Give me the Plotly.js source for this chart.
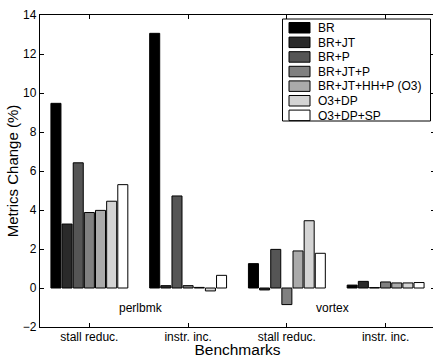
<!DOCTYPE html>
<html>
<head>
<meta charset="utf-8">
<script src="https://cdn.plot.ly/plotly-3.0.1.min.js"></script>
<style>
html,body{margin:0;padding:0;overflow:hidden;background:#fff;}
#chart{width:440px;height:358px;}
</style>
</head>
<body>
<div id="chart"></div>
<script>
// ---- data ----
const categoryPositions = [1, 2, 3, 4];
const categoryLabels = ['stall reduc.', 'instr. inc.', 'stall reduc.', 'instr. inc.'];
const benchmarkNames = ['perlbmk', 'vortex'];
const benchmarkLabelX = [1.52, 3.46];
const benchmarkLabelY = -1.05;

const seriesNames = ['BR', 'BR+JT', 'BR+P', 'BR+JT+P', 'BR+JT+HH+P (O3)', 'O3+DP', 'O3+DP+SP'];
const seriesColors = ['#000000', '#2a2a2a', '#555555', '#808080', '#aaaaaa', '#d4d4d4', '#ffffff'];

const valBR       = [9.47, 13.06, 1.25, 0.15];
const valBRJT     = [3.28, 0.12, -0.10, 0.34];
const valBRP      = [6.42, 4.72, 1.98, 0.02];
const valBRJTP    = [3.87, 0.12, -0.85, 0.31];
const valBRJTHHP  = [3.98, 0.03, 1.90, 0.26];
const valO3DP     = [4.45, -0.15, 3.45, 0.26];
const valO3DPSP   = [5.30, 0.65, 1.78, 0.28];
const seriesValues = [valBR, valBRJT, valBRP, valBRJTP, valBRJTHHP, valO3DP, valO3DPSP];

// ---- traces ----
const traces = seriesNames.map((name, i) => ({
  type: 'bar',
  name: name,
  x: categoryPositions,
  y: seriesValues[i],
  marker: {color: seriesColors[i], line: {color: '#000', width: 1}},
  showlegend: false,
  hoverinfo: 'skip'
}));

const FONT = 'Liberation Sans, Arial, Helvetica, sans-serif';

// ---- custom legend (pixel geometry converted to paper coords) ----
const L = 40, W = 395, T = 15, H = 312;
const px = v => (v - L) / W;
const py = v => (T + H - v) / H;
const shapes = [{
  type: 'rect', xref: 'paper', yref: 'paper',
  x0: px(282.5), x1: px(430.5), y0: py(121), y1: py(19),
  line: {color: '#000', width: 1}, fillcolor: '#fff'
}];
const annotations = [];
seriesNames.forEach((name, i) => {
  const top = 22.5 + 14.6 * i;
  shapes.push({
    type: 'rect', xref: 'paper', yref: 'paper',
    x0: px(289), x1: px(310), y0: py(top + 10.5), y1: py(top),
    line: {color: '#000', width: 1}, fillcolor: seriesColors[i]
  });
  annotations.push({
    xref: 'paper', yref: 'paper', x: px(316), y: py(top + 5.5),
    xanchor: 'left', yanchor: 'middle', text: name, showarrow: false,
    font: {family: FONT, size: 12, color: '#000'}
  });
});
benchmarkNames.forEach((b, i) => {
  annotations.push({
    xref: 'x', yref: 'y', x: benchmarkLabelX[i], y: benchmarkLabelY,
    text: b, showarrow: false, xanchor: 'center', yanchor: 'middle',
    font: {family: FONT, size: 12, color: '#000'}
  });
});

const layout = {
  width: 440, height: 358,
  margin: {l: L, r: 440 - L - W, t: T, b: 358 - T - H},
  paper_bgcolor: '#fff', plot_bgcolor: '#fff',
  font: {family: FONT, size: 12, color: '#000'},
  barmode: 'group', bargap: 0.21, bargroupgap: 0.1,
  xaxis: {
    range: [0.5, 4.5], tickvals: categoryPositions, ticktext: categoryLabels,
    ticks: 'inside', ticklen: 4, tickcolor: '#000', tickwidth: 1,
    ticklabelstandoff: -2,
    showline: true, linecolor: '#000', linewidth: 1.2, mirror: 'ticks',
    showgrid: false, zeroline: false,
    tickfont: {family: FONT, size: 12, color: '#000'},
    title: {text: 'Benchmarks', font: {family: FONT, size: 15.5, color: '#000'}, standoff: 0}
  },
  yaxis: {
    range: [-2, 14], dtick: 2, tick0: 0,
    ticks: 'inside', ticklen: 4, tickcolor: '#000', tickwidth: 1,
    showline: true, linecolor: '#000', linewidth: 1.2, mirror: 'ticks',
    showgrid: false, zeroline: false,
    tickfont: {family: FONT, size: 12, color: '#000'},
    title: {text: 'Metrics Change (%)', font: {family: FONT, size: 15, color: '#000'}, standoff: 0}
  },
  shapes: shapes,
  annotations: annotations,
  showlegend: false
};

Plotly.newPlot('chart', traces, layout, {displayModeBar: false, staticPlot: true});
</script>
</body>
</html>
